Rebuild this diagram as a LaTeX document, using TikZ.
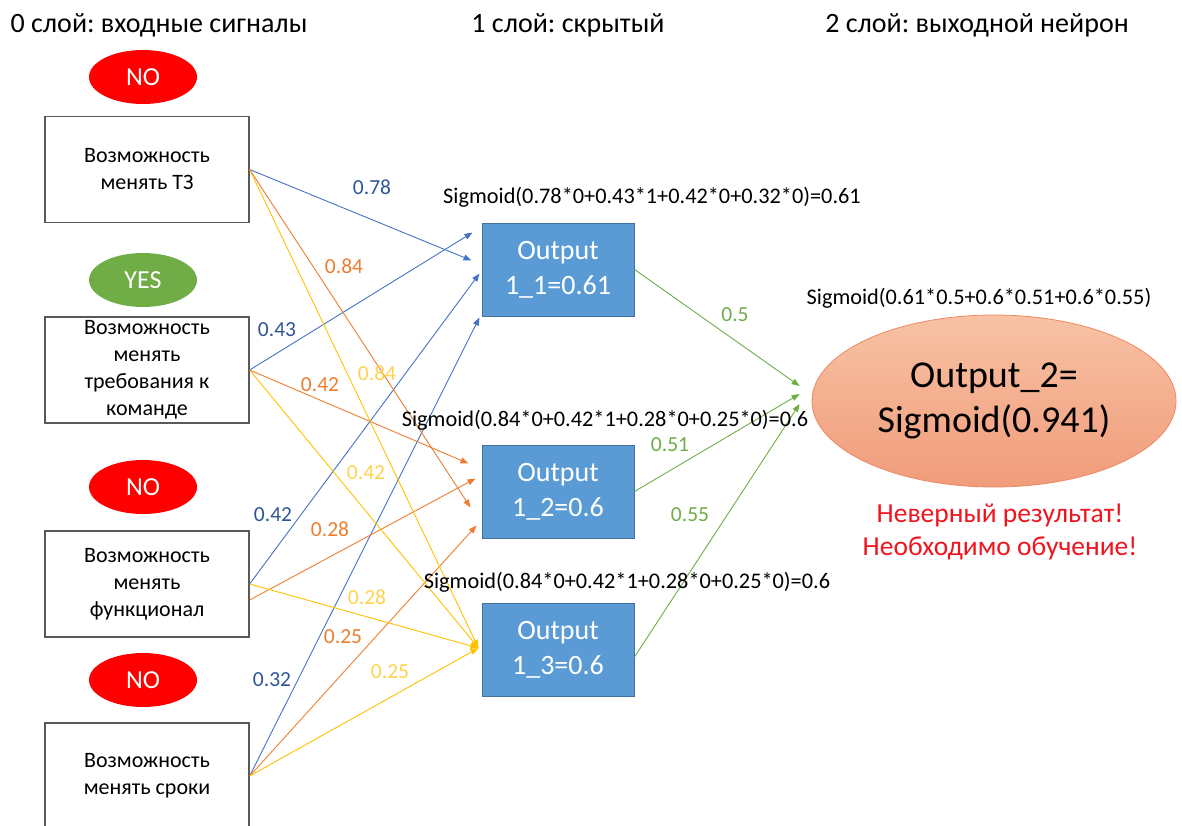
\documentclass[tikz,border=0pt]{standalone}
\usepackage{fontspec}
\setmainfont{Carlito}
\usetikzlibrary{arrows.meta,shapes.geometric,calc}
\definecolor{wblue}{HTML}{4472C4}
\definecolor{worange}{HTML}{ED7D31}
\definecolor{wyellow}{HTML}{FFC000}
\definecolor{wgreen}{HTML}{70AD47}
\definecolor{lblue}{HTML}{2F5597}
\definecolor{lyellow}{HTML}{FFD24D}
\definecolor{hidfill}{HTML}{5B9BD5}
\definecolor{hiddraw}{HTML}{41719C}
\definecolor{outtop}{HTML}{F8C2A5}
\definecolor{outbot}{HTML}{F09C7A}
\definecolor{outdraw}{HTML}{EB8A62}
\definecolor{alarm}{HTML}{F0141E}
\frenchspacing
\begin{document}
\begin{tikzpicture}[x=1pt, y=-1pt, line width=0.9pt,
  head/.style={anchor=base, font=\fontsize{28}{30}\selectfont},
  inbox/.style={draw=black!65, line width=1.3pt, minimum width=204pt, minimum height=106pt,
    inner sep=0pt, align=center, font=\fontsize{22}{27}\selectfont},
  flag/.style={ellipse, minimum width=108pt, minimum height=54pt, inner sep=0pt,
    text=white, font=\fontsize{26}{28}\selectfont},
  hidbox/.style={draw=hiddraw, fill=hidfill, line width=1pt, minimum width=152pt,
    minimum height=93pt, inner sep=0pt, align=center, text=white,
    font=\fontsize{28}{35}\selectfont},
  sig/.style={font=\fontsize{22.3}{24}\selectfont},
  wt/.style={font=\fontsize{21.5}{24}\selectfont},
  tip/.style={-{Triangle[length=8pt,width=6pt]}},
  wb/.style={tip, draw=wblue},
  wo/.style={tip, draw=worange},
  wy/.style={tip, draw=wyellow},
  wg/.style={tip, draw=wgreen}]
\clip (0,0) rectangle (1182,825);

% заголовки слоёв
\node[head] (head0) at (159,32) {0 слой: входные сигналы};
\node[head] (head1) at (568,32) {1 слой: скрытый};
\node[head] (head2) at (977,32) {2 слой: выходной нейрон};

% входные сигналы
\node[flag, fill=red] (f1) at (143,77) {NO};
\node[flag, fill=wgreen] (f2) at (143,280) {YES};
\node[flag, fill=red] (f3) at (143,487) {NO};
\node[flag, fill=red] (f4) at (143,680) {NO};
\node[inbox] (in1) at (147,169.5) {Возможность\\менять ТЗ};
\node[inbox] (in2) at (147,370) {Возможность\\менять\\требования к\\команде};
\node[inbox] (in3) at (147,584) {Возможность\\менять\\функционал};
\node[inbox] (in4) at (147,776) {Возможность\\менять сроки};

% скрытый слой
\node[hidbox] (h1) at (558,269.5) {Output\\1\_1=0.61};
\node[hidbox] (h2) at (558,491.5) {Output\\1\_2=0.6};
\node[hidbox] (h3) at (558,650) {Output\\1\_3=0.6};

% выходной нейрон
\node[ellipse, draw=outdraw, line width=0.8pt, top color=outtop, bottom color=outbot,
  minimum width=364pt, minimum height=172pt, inner sep=0pt, align=center,
  font=\fontsize{38}{45}\selectfont]
  (out) at (994,401) {Output\_2=\\Sigmoid(0.941)};
\node[text=alarm, align=center, font=\fontsize{27.5}{33}\selectfont] (msg) at (1000,532)
  {Неверный результат!\\Необходимо обучение!};

\coordinate (in3o) at ($(in3.east)+(0,16)$);
\coordinate (h3o) at ($(h3.east)+(0,7)$);
\coordinate (t3) at ($(h3.west)+(-3,-2)$);

% веса к 1_1
\draw[wb] (in1.east) -- ($(h1.west)+(-10,-9)$);
\draw[wb] (in2.east) -- ($(h1.west)+(-9,-37)$);
\draw[wb] (in3.east) -- ($(h1.west)+(-2,4)$);
\draw[wb] (in4.east) -- ($(h1.west)+(-2,48)$);
% веса к 1_2
\draw[wo] (in1.east) -- ($(h2.west)+(-11,16)$);
\draw[wo] (in2.east) -- ($(h2.west)+(-13,-28)$);
\draw[wo] (in3o) -- ($(h2.west)+(-6,-13)$);
\draw[wo] (in4.east) -- ($(h2.west)+(-5,34)$);
% веса к 1_3
\draw[wy] (in1.east) -- (t3);
\draw[wy] (in2.east) -- (t3);
\draw[wy] (in3.east) -- (t3);
\draw[wy] (in4.east) -- (t3);
% к выходу
\draw[wg] (h1.east) -- ($(out.west)+(-12,-15)$);
\draw[wg] (h2.east) -- ($(out.west)+(-12,-7)$);
\draw[wg] (h3o) -- ($(out.west)+(-12,3)$);

\node[wt, text=lblue] (w11) at (372,187) {0.78};
\node[wt, text=lblue] (w21) at (277,330) {0.43};
\node[wt, text=lblue] (w31) at (273,515) {0.42};
\node[wt, text=lblue] (w41) at (272,680) {0.32};
\node[wt, text=worange] (w12) at (344,266) {0.84};
\node[wt, text=worange] (w22) at (320,385) {0.42};
\node[wt, text=worange] (w32) at (330,529) {0.28};
\node[wt, text=worange] (w42) at (343,637) {0.25};
\node[wt, text=lyellow] (w13) at (377,373) {0.84};
\node[wt, text=lyellow] (w23) at (366,473) {0.42};
\node[wt, text=lyellow] (w33) at (367,597) {0.28};
\node[wt, text=lyellow] (w43) at (390,672) {0.25};
\node[wt, text=wgreen] (v1) at (735,315) {0.5};
\node[wt, text=wgreen] (v2) at (670,445) {0.51};
\node[wt, text=wgreen] (v3) at (690,515) {0.55};

% формулы
\node[sig] (s1) at (652,197) {Sigmoid(0.78*0+0.43*1+0.42*0+0.32*0)=0.61};
\node[sig] (s2) at (605,420) {Sigmoid(0.84*0+0.42*1+0.28*0+0.25*0)=0.6};
\node[sig] (s3) at (627,582) {Sigmoid(0.84*0+0.42*1+0.28*0+0.25*0)=0.6};
\node[sig] (s4) at (979,298) {Sigmoid(0.61*0.5+0.6*0.51+0.6*0.55)};
\end{tikzpicture}
\end{document}
